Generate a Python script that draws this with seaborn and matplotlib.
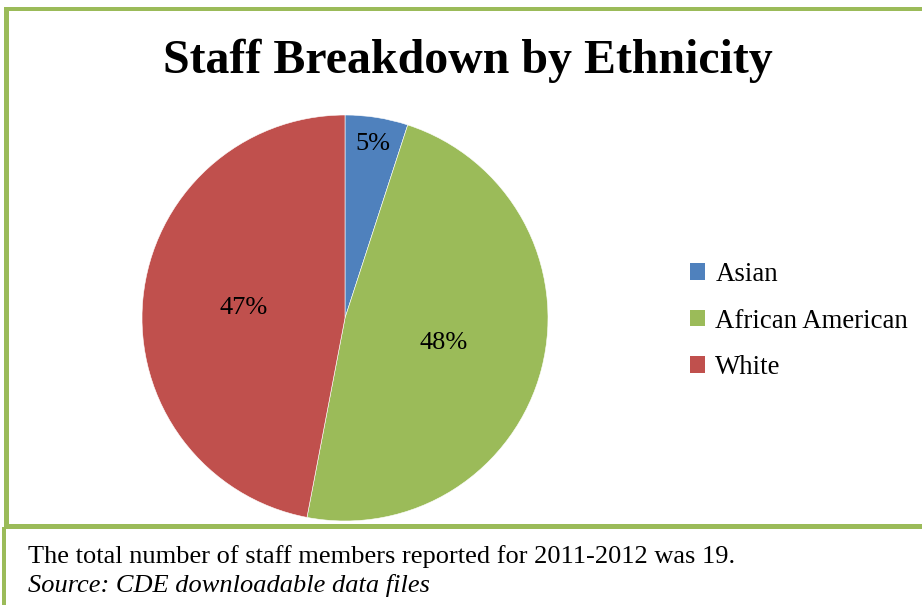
import matplotlib
matplotlib.use("Agg")
import matplotlib.pyplot as plt
import seaborn as sns
from matplotlib.patches import Rectangle
import numpy as np

# ---- data ----
categories = ["Asian", "African American", "White"]
percentages = [5, 48, 47]
title_text = "Staff Breakdown by Ethnicity"
note_text = "The total number of staff members reported for 2011-2012 was 19."
source_text = "Source: CDE downloadable data files"
colors = ["#4F81BD", "#9BBB59", "#C0504D"]
border_color = "#9BBB59"

sns.set_theme(style="white")
plt.rcParams["font.family"] = ["Liberation Serif", "DejaVu Serif"]
plt.rcParams["text.color"] = "black"

W, H = 922, 605
fig = plt.figure(figsize=(W / 100, H / 100), dpi=100)
fig.patch.set_facecolor("white")


def fx(x):
    return x / W


def fy(y):
    return 1 - y / H


def rect(x0, y0, x1, y1):
    fig.add_artist(Rectangle((fx(x0), fy(y1)), fx(x1) - fx(x0), fy(y0) - fy(y1),
                             transform=fig.transFigure, facecolor=border_color,
                             edgecolor="none", zorder=5))


# borders
rect(4, 7, W, 11)      # top line
rect(4, 7, 9, 526)     # left line chart box
rect(4, 524, W, 529)   # line between chart and note
rect(2, 527, 6, H)     # left line note box

# pie axes
cx, cy, r = 345, 318, 203
ax = fig.add_axes([fx(cx - r), fy(cy + r), fx(2 * r), (2 * r) / H])
wedges, texts, autotexts = ax.pie(
    percentages, colors=colors, startangle=90, counterclock=False,
    autopct=lambda p: f"{p:.0f}%", pctdistance=0.5,
    wedgeprops=dict(linewidth=0.4, edgecolor="white"),
    textprops=dict(fontsize=19, color="black", family=["Liberation Serif"]))
ax.set_xlim(-1, 1)
ax.set_ylim(-1, 1)
ax.set_aspect("equal")
ax.axis("off")

# small slice label placed further out (best-fit style)
for w, t, p in zip(wedges, autotexts, percentages):
    if p < 10:
        ang = np.deg2rad((w.theta1 + w.theta2) / 2)
        t.set_position((0.87 * np.cos(ang), 0.87 * np.sin(ang)))

# title
fig.text(fx(468), fy(73), title_text, ha="center", va="baseline",
         fontsize=34.5, fontweight="bold", color="black")

# legend
leg = fig.legend(wedges, categories, loc="center left",
                 bbox_to_anchor=(fx(690), fy(321)), bbox_transform=fig.transFigure,
                 frameon=False, fontsize=19.3, handlelength=0.55, handleheight=0.55,
                 handletextpad=0.4, labelspacing=0.8, borderpad=0, borderaxespad=0)
for h in leg.legend_handles:
    h.set_edgecolor("none")
for t in leg.get_texts():
    t.set_color("black")

# note text
fig.text(fx(28), fy(563), note_text, ha="left", va="baseline", fontsize=19,
         color="black")
fig.text(fx(28), fy(592), source_text, ha="left", va="baseline", fontsize=19,
         fontstyle="italic", color="black")

fig.savefig("out.png", dpi=100)
